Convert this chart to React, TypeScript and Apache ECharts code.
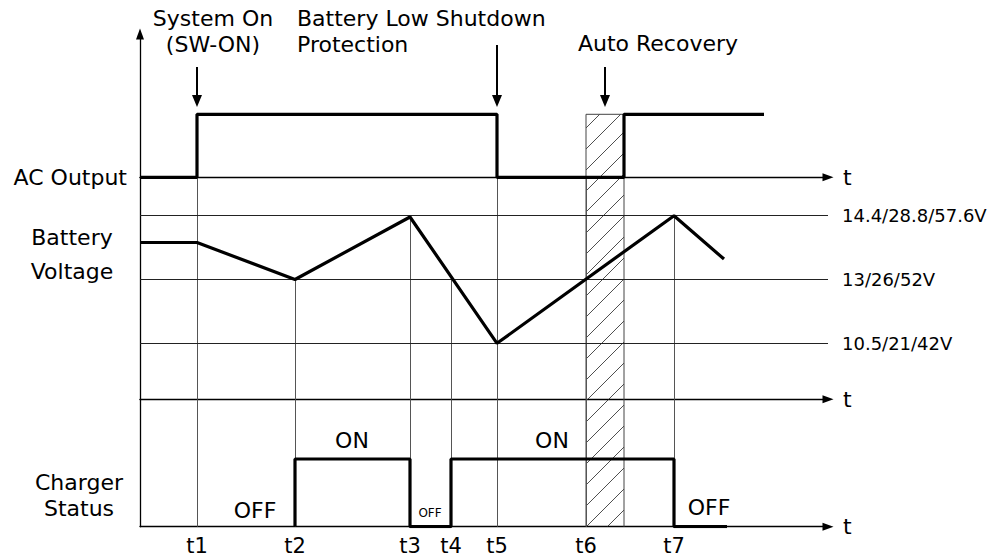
import React, { useEffect, useRef } from 'react';
import * as echarts from 'echarts';

// ---- data (time in arbitrary units, states 0/1, battery in reference levels) ----
const TICK_LABELS = ['t1', 't2', 't3', 't4', 't5', 't6', 't7'];
const TICKS = [5.7, 15.5, 27.0, 31.1, 35.7, 44.6, 53.4];
const RECOVERY_WINDOW = [44.6, 48.4];

const AC_TIMES = [0, 5.7, 35.7, 48.4, 62.4];
const AC_STATES = [0, 1, 0, 1, 1];

// battery level: 0 = 10.5V line, 1 = 13V line, 2 = 14.4V line
const VOLT_TIMES = [0, 5.7, 15.5, 27.0, 35.7, 53.4, 58.4];
const VOLT_LEVELS = [1.58, 1.58, 1.0, 1.98, 0, 2.0, 1.32];
const VOLT_REF_LEVELS = [2, 1, 0];
const VOLT_REF_LABELS = ['14.4/28.8/57.6V', '13/26/52V', '10.5/21/42V'];

const CHG_TIMES = [15.5, 15.5, 27.0, 31.1, 53.4, 58.7];
const CHG_STATES = [0, 1, 0, 1, 0, 0];

// level where each tick's guide line starts inside the battery panel (null = top)
const GUIDE_START_LEVEL: (number | null)[] = [null, 1.0, 1.98, 1.0, null, null, 2.0];

// ---- layout ----
const FONT = 'DejaVu Sans, Liberation Sans, Arial, sans-serif';
const X_MAX = 68.8;
const A_MAX = 2.275;
const V_MIN = -0.878;
const V_MAX = 2.602;
const C_MAX = 1.882;

const zip = (xs: number[], ys: number[]) => xs.map((x, i) => [x, ys[i]]);

function hatchSeries(idx: number, yLo: number, yHi: number, top: boolean) {
  return {
    type: 'custom',
    xAxisIndex: idx,
    yAxisIndex: idx,
    silent: true,
    z: 3,
    clip: false,
    data: [[RECOVERY_WINDOW[0], RECOVERY_WINDOW[1]]],
    encode: { x: [0, 1] },
    renderItem: (params: any, api: any) => {
      const a = api.coord([api.value(0), yHi]);
      const b = api.coord([api.value(1), yLo]);
      const L = a[0], R = b[0], T = a[1], B = b[1];
      const S = 21;
      const children: any[] = [];
      const hs = { stroke: '#222', lineWidth: 0.8 };
      for (let c = Math.ceil((L + T) / S) * S; c <= R + B; c += S) {
        const xs = Math.max(L, c - B);
        const xe = Math.min(R, c - T);
        if (xe > xs) {
          children.push({ type: 'line', shape: { x1: xs, y1: c - xs, x2: xe, y2: c - xe }, style: hs });
        }
      }
      const bs = { stroke: '#444', lineWidth: 1 };
      children.push({ type: 'line', shape: { x1: L, y1: T, x2: L, y2: B }, style: bs });
      children.push({ type: 'line', shape: { x1: R, y1: T, x2: R, y2: B }, style: bs });
      if (top) children.push({ type: 'line', shape: { x1: L, y1: T, x2: R, y2: T }, style: bs });
      return { type: 'group', children };
    },
  };
}

function txt(text: string, x: number, y: number, align: string, size = 22) {
  return {
    type: 'text',
    x,
    y,
    silent: true,
    style: {
      text,
      fill: '#000',
      fontSize: size,
      fontFamily: FONT,
      lineHeight: size,
      align,
      textAlign: align,
      verticalAlign: 'middle',
      textVerticalAlign: 'middle',
    },
  };
}

export default function App() {
  const ref = useRef<HTMLDivElement>(null);
  useEffect(() => {
    if (!ref.current) return;
    const chart = echarts.init(ref.current, undefined, { renderer: 'svg' });
    const axisLineStyle = { color: '#000', width: 1.3 };
    const guideStyle = { color: '#555', width: 1, type: 'solid' };
    const thick = { color: '#000', width: 3.2 };
    const yMins = [0, V_MIN, 0];
    const yMaxs = [A_MAX, V_MAX, C_MAX];

    const option: any = {
      animation: false,
      backgroundColor: '#fff',
      grid: [
        { left: 140, width: 688, top: 34, height: 143.3 },
        { left: 140, width: 688, top: 177.3, height: 222 },
        { left: 140, width: 688, top: 399.3, height: 127.4 },
      ],
      xAxis: [0, 1, 2].map((i) => ({
        type: 'value',
        gridIndex: i,
        min: 0,
        max: X_MAX,
        name: 't',
        nameLocation: 'end',
        nameGap: 15,
        nameTextStyle: { fontSize: 22, color: '#000', fontFamily: FONT, lineHeight: 22 },
        axisLine: {
          show: true,
          onZero: false,
          symbol: ['none', 'triangle'],
          symbolSize: [8, 11],
          lineStyle: axisLineStyle,
        },
        axisTick: { show: false },
        splitLine: { show: false },
        axisLabel:
          i === 2
            ? {
                show: true,
                customValues: TICKS,
                margin: 9,
                fontSize: 21,
                lineHeight: 21,
                color: '#000',
                fontFamily: FONT,
                formatter: (v: number) => {
                  const k = TICKS.findIndex((t) => Math.abs(t - v) < 1e-6);
                  return k >= 0 ? TICK_LABELS[k] : '';
                },
              }
            : { show: false },
      })),
      yAxis: [0, 1, 2].map((i) => ({
        type: 'value',
        gridIndex: i,
        min: yMins[i],
        max: yMaxs[i],
        axisLine: {
          show: true,
          onZero: false,
          symbol: i === 0 ? ['none', 'triangle'] : 'none',
          symbolSize: [8, 11],
          lineStyle: axisLineStyle,
        },
        axisTick: { show: false },
        axisLabel: { show: false },
        splitLine: { show: false },
      })),
      series: [
        // guides + reference lines in battery panel
        {
          type: 'line',
          xAxisIndex: 1,
          yAxisIndex: 1,
          data: [],
          z: 2,
          silent: true,
          markLine: {
            silent: true,
            symbol: 'none',
            animation: false,
            label: { show: false },
            lineStyle: guideStyle,
            emphasis: { disabled: true },
            data: [
              ...TICKS.map((t, i) => [
                { coord: [t, GUIDE_START_LEVEL[i] ?? V_MAX] },
                { coord: [t, V_MIN] },
              ]),
              ...VOLT_REF_LEVELS.map((lv, i) => ({
                yAxis: lv,
                name: VOLT_REF_LABELS[i],
                lineStyle: { color: '#222', width: 1, type: 'solid' },
                label: {
                  show: true,
                  position: 'end',
                  distance: 14,
                  formatter: VOLT_REF_LABELS[i],
                  fontSize: 18,
                  color: '#000',
                  fontFamily: FONT,
                },
              })),
            ],
          },
        },
        // guides in charger panel
        {
          type: 'line',
          xAxisIndex: 2,
          yAxisIndex: 2,
          data: [],
          z: 2,
          silent: true,
          markLine: {
            silent: true,
            symbol: 'none',
            animation: false,
            label: { show: false },
            lineStyle: guideStyle,
            emphasis: { disabled: true },
            data: TICKS.map((t) => [{ coord: [t, C_MAX] }, { coord: [t, 0] }]),
          },
        },
        // event arrows in AC panel
        {
          type: 'line',
          xAxisIndex: 0,
          yAxisIndex: 0,
          data: [],
          z: 4,
          silent: true,
          markLine: {
            silent: true,
            symbol: ['none', 'triangle'],
            symbolSize: [10, 12],
            animation: false,
            label: { show: false },
            lineStyle: { color: '#000', width: 2, type: 'solid' },
            emphasis: { disabled: true },
            data: [
              [{ coord: [TICKS[0], 1.75] }, { coord: [TICKS[0], 1.21] }],
              [{ coord: [TICKS[4], 2.1] }, { coord: [TICKS[4], 1.21] }],
              [
                { coord: [(RECOVERY_WINDOW[0] + RECOVERY_WINDOW[1]) / 2, 1.75] },
                { coord: [(RECOVERY_WINDOW[0] + RECOVERY_WINDOW[1]) / 2, 1.21] },
              ],
            ],
          },
        },
        hatchSeries(0, 0, 1, true),
        hatchSeries(1, V_MIN, V_MAX, false),
        hatchSeries(2, 0, C_MAX, false),
        {
          name: 'AC Output',
          type: 'line',
          xAxisIndex: 0,
          yAxisIndex: 0,
          step: 'end',
          showSymbol: false,
          z: 5,
          lineStyle: thick,
          data: zip(AC_TIMES, AC_STATES),
        },
        {
          name: 'Battery Voltage',
          type: 'line',
          xAxisIndex: 1,
          yAxisIndex: 1,
          showSymbol: false,
          z: 5,
          lineStyle: thick,
          data: zip(VOLT_TIMES, VOLT_LEVELS),
        },
        {
          name: 'Charger Status',
          type: 'line',
          xAxisIndex: 2,
          yAxisIndex: 2,
          step: 'end',
          showSymbol: false,
          z: 5,
          lineStyle: thick,
          data: zip(CHG_TIMES, CHG_STATES),
        },
      ],
      graphic: [
        txt('System On', 213, 18, 'center'),
        txt('(SW-ON)', 213, 44, 'center'),
        txt('Battery Low Shutdown', 297, 18, 'left'),
        txt('Protection', 297, 44, 'left'),
        txt('Auto Recovery', 658, 43, 'center'),
        txt('AC Output', 127, 177, 'right'),
        txt('Battery', 72, 237, 'center'),
        txt('Voltage', 72, 271, 'center'),
        txt('Charger', 79, 482, 'center'),
        txt('Status', 79, 508, 'center'),
        txt('OFF', 255, 510, 'center'),
        txt('ON', 352, 440, 'center'),
        txt('OFF', 430, 513, 'center', 12),
        txt('ON', 552, 440, 'center'),
        txt('OFF', 709, 507, 'center'),
      ],
    };
    chart.setOption(option);
    return () => chart.dispose();
  }, []);
  return (
    <div
      ref={ref}
      style={{ position: 'absolute', left: 0, top: 0, width: 1004, height: 560, background: '#fff' }}
    />
  );
}
